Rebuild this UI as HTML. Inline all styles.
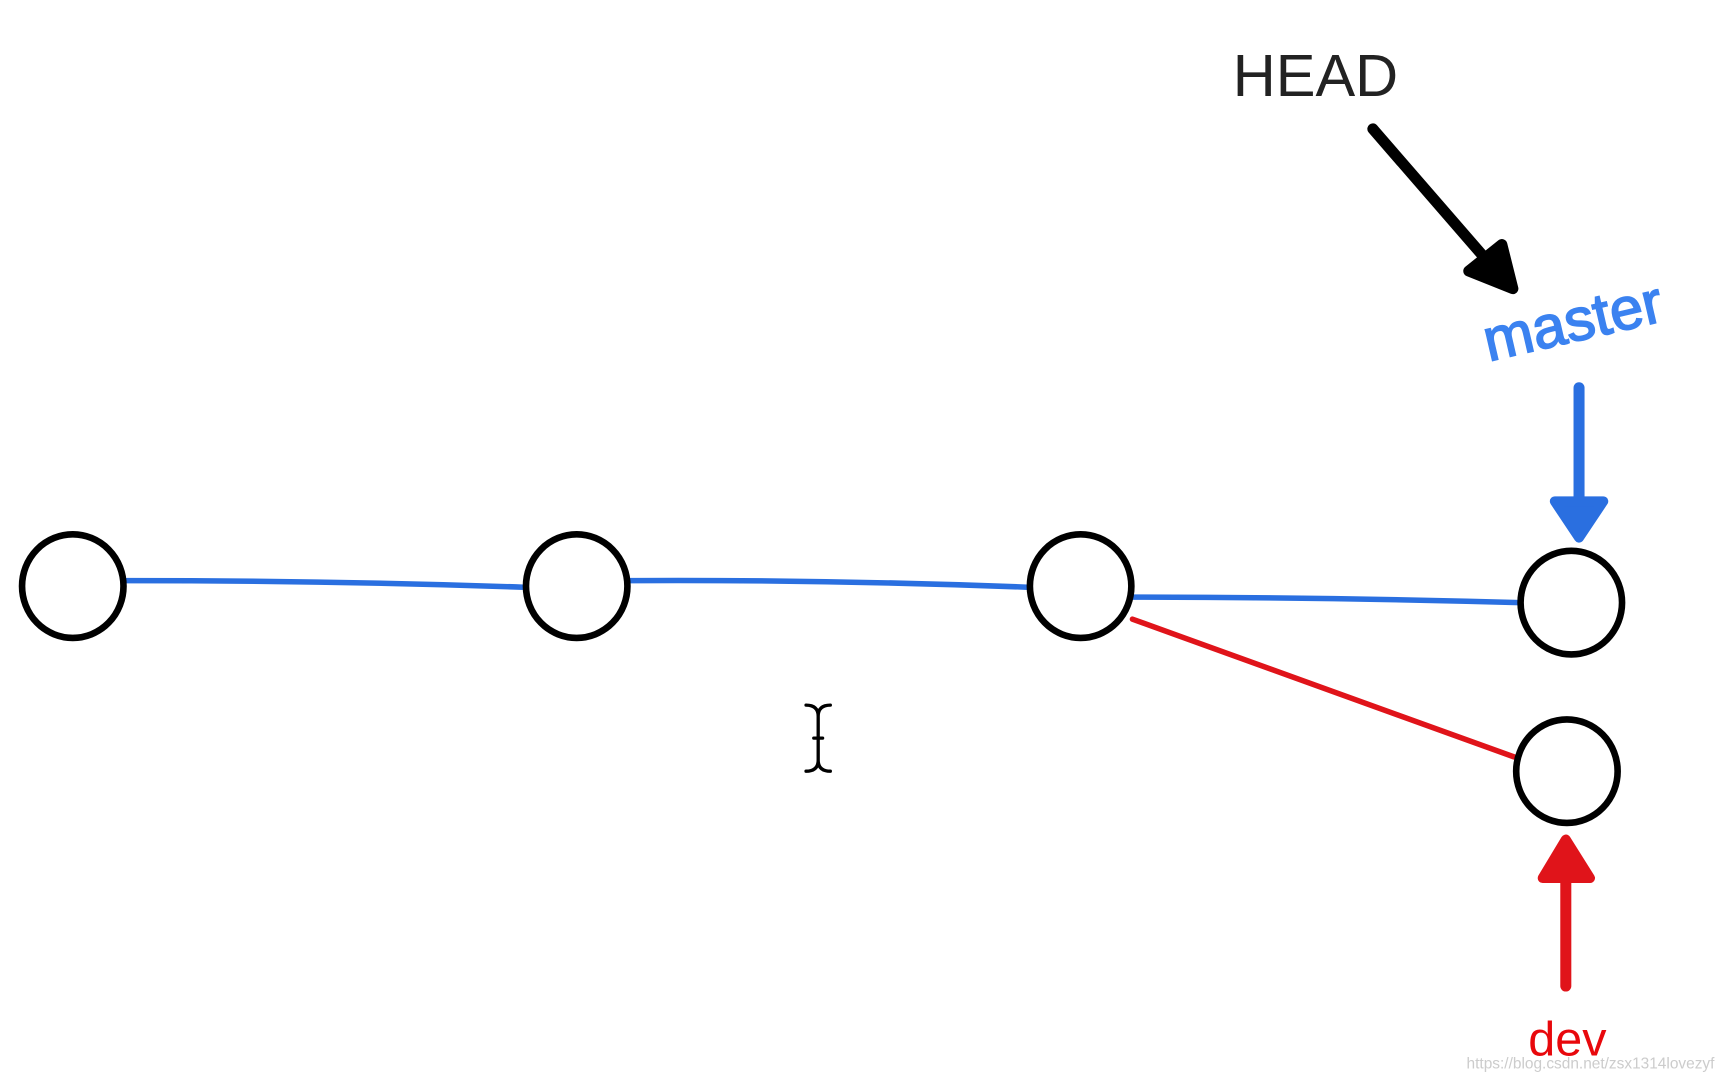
<!DOCTYPE html>
<html><head><style>
html,body{margin:0;padding:0;background:#fff;width:1729px;height:1083px;overflow:hidden}
svg{display:block}
</style></head><body>
<svg width="1729" height="1083" viewBox="0 0 1568 983" preserveAspectRatio="none" xmlns="http://www.w3.org/2000/svg">
<g fill="none" stroke-linecap="round">
<path d="M115 527 Q300 527 475 533" stroke="#2a6fe0" stroke-width="5"/>
<path d="M570 527 Q750 526 932 533" stroke="#2a6fe0" stroke-width="5"/>
<path d="M1027 542 Q1200 542 1378 547" stroke="#2a6fe0" stroke-width="5"/>
<path d="M1027 562 L1373 687" stroke="#e0141a" stroke-width="5"/>
<g stroke="#000" stroke-width="6">
<ellipse cx="66" cy="532" rx="46" ry="47"/>
<ellipse cx="523" cy="532" rx="46" ry="47"/>
<ellipse cx="980" cy="532" rx="46" ry="47"/>
<ellipse cx="1425" cy="547" rx="46" ry="47"/>
<ellipse cx="1421" cy="700" rx="46" ry="47"/>
</g>
<path d="M1245 117 L1362 252" stroke="#000" stroke-width="10"/>
<path d="M1332 246 L1372 262 L1362 222 Z" fill="#000" stroke="#000" stroke-width="10" stroke-linejoin="round"/>
<path d="M1432 352 L1432 470" stroke="#2a6fe0" stroke-width="10"/>
<path d="M1410 455 L1432 488 L1454 455 Z" fill="#2a6fe0" stroke="#2a6fe0" stroke-width="9" stroke-linejoin="round"/>
<path d="M1420 895 L1420 775" stroke="#e0141a" stroke-width="10"/>
<path d="M1399 797 L1420 762 L1442 797 Z" fill="#e0141a" stroke="#e0141a" stroke-width="9" stroke-linejoin="round"/>
<path d="M731 640 Q742 640 742 650 L742 690 Q742 700 731 700 M753 640 Q742 640 742 650 M742 690 Q742 700 753 700 M738 670 L746 670" stroke="#000" stroke-width="3"/>
</g>
<text x="1118" y="87" font-family="Liberation Sans, sans-serif" font-size="54" fill="#222">HEAD</text>
<text x="1350" y="328" font-family="Liberation Sans, sans-serif" font-size="54" fill="#3b82f0" stroke="#3b82f0" stroke-width="1.5" transform="rotate(-13 1350 328)">master</text>
<text x="1386" y="958" font-family="Liberation Sans, sans-serif" font-size="44" fill="#e8080c">dev</text>
<text x="1330" y="970" font-family="Liberation Sans, sans-serif" font-size="14" fill="#ccc">https://blog.csdn.net/zsx1314lovezyf</text>
</svg>
</body></html>
